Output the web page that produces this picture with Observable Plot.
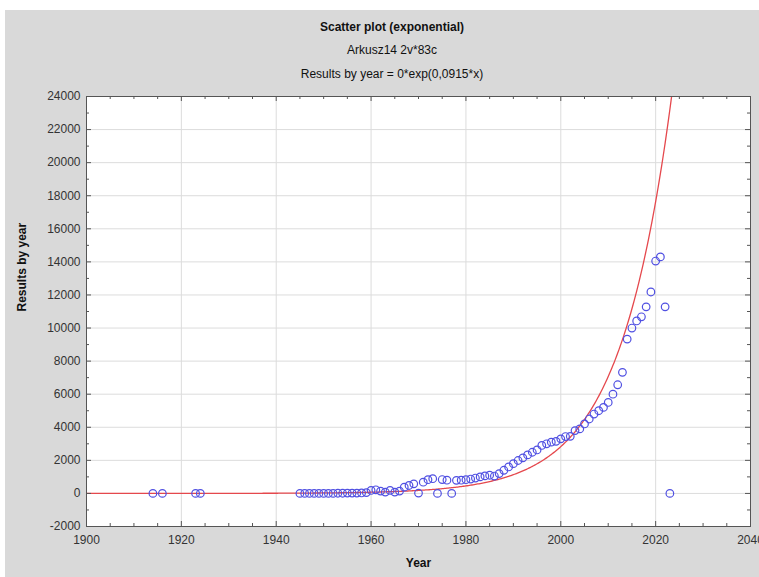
<!DOCTYPE html>
<html>
<head>
<meta charset="utf-8">
<script src="https://cdn.jsdelivr.net/npm/d3@7"></script>
<script src="https://cdn.jsdelivr.net/npm/@observablehq/plot@0.6"></script>
<style>
  html, body { margin: 0; padding: 0; background: #ffffff; }
  #wrap { position: absolute; left: 5px; top: 10px; width: 754px; height: 567px; background: #d9d9d9; overflow: hidden;
          font-family: "Liberation Sans", Arial, sans-serif; color: #111; }
  #titles { position: relative; height: 70px; }
  .t { position: absolute; left: 20px; right: 0; text-align: center; font-size: 12px; line-height: 14px; }
  #t1 { top: 10px; font-weight: bold; }
  #t2 { top: 33px; }
  #t3 { top: 57px; }
  #chart svg { display: block; }
</style>
</head>
<body>
<div id="wrap">
  <div id="titles">
    <div class="t" id="t1">Scatter plot (exponential)</div>
    <div class="t" id="t2">Arkusz14 2v*83c</div>
    <div class="t" id="t3">Results by year = 0*exp(0,0915*x)</div>
  </div>
  <div id="chart"></div>
</div>
<script>
// ---- data ----
const years = [1914, 1916, 1923, 1924,
  1945, 1946, 1947, 1948, 1949, 1950, 1951, 1952, 1953, 1954, 1955, 1956, 1957, 1958, 1959,
  1960, 1961, 1962, 1963, 1964, 1965, 1966, 1967, 1968, 1969,
  1970, 1971, 1972, 1973, 1974, 1975, 1976, 1977, 1978, 1979,
  1980, 1981, 1982, 1983, 1984, 1985, 1986, 1987, 1988, 1989,
  1990, 1991, 1992, 1993, 1994, 1995, 1996, 1997, 1998, 1999,
  2000, 2001, 2002, 2003, 2004, 2005, 2006, 2007, 2008, 2009,
  2010, 2011, 2012, 2013, 2014, 2015, 2016, 2017, 2018, 2019,
  2020, 2021, 2022, 2023];
const results = [0, 0, 0, 0,
  0, 0, 0, 0, 0, 0, 0, 0, 10, 10, 20, 20, 20, 30, 50,
  180, 220, 140, 80, 180, 80, 140, 380, 480, 580,
  20, 680, 830, 890, 0, 840, 800, 0, 790, 800,
  830, 870, 930, 1000, 1060, 1100, 1050, 1200, 1400, 1600,
  1800, 1990, 2150, 2330, 2490, 2630, 2900, 3000, 3100, 3150,
  3300, 3440, 3450, 3800, 3900, 4200, 4500, 4800, 5000, 5200,
  5500, 6000, 6570, 7320, 9330, 10000, 10430, 10680, 11280, 12180,
  14050, 14300, 11280, 0];

// fitted exponential model: Results = a*exp(0.0915*x), a expressed relative to year 2000
const fitRate = 0.0915;
const fitAt2000 = 2830;

const xTicks = [1900, 1920, 1940, 1960, 1980, 2000, 2020, 2040];
const yTicks = [-2000, 0, 2000, 4000, 6000, 8000, 10000, 12000, 14000, 16000, 18000, 20000, 22000, 24000];

// ---- build ----
const points = years.map((y, i) => ({year: y, value: results[i]}));
const curve = d3.range(1900, 2040.01, 0.25).map(x => ({year: x, value: fitAt2000 * Math.exp(fitRate * (x - 2000))}))
  .filter(d => d.value < 60000);

const xMinor = d3.range(1900, 2041, 5).filter(v => !xTicks.includes(v));
const yMinor = d3.range(-2000, 24001, 1000).filter(v => !yTicks.includes(v));

const W = 754, H = 497, mL = 81, mR = 9, mT = 16, mB = 51;
const pw = W - mL - mR, ph = H - mT - mB;
const axisColor = "#555";

const chart = Plot.plot({
  width: W, height: H,
  marginLeft: mL, marginRight: mR, marginTop: mT, marginBottom: mB,
  style: {background: "transparent", fontFamily: "\"Liberation Sans\", Arial, sans-serif", fontSize: "12px", color: "#333", overflow: "visible"},
  x: {domain: [1900, 2040]},
  y: {domain: [-2000, 24000]},
  marks: [
    Plot.frame({fill: "white", stroke: null}),
    Plot.gridX(xTicks.slice(1, -1), {stroke: "#dcdcdc", strokeOpacity: 1, strokeWidth: 1}),
    Plot.gridY(yTicks.slice(1, -1), {stroke: "#dcdcdc", strokeOpacity: 1, strokeWidth: 1}),
    Plot.line(curve, {x: "year", y: "value", stroke: "#e5484d", strokeWidth: 1.3, clip: true}),
    Plot.dot(points, {x: "year", y: "value", r: 3.8, stroke: "#5050e2", strokeWidth: 1.2, fill: "none"}),
    // inward tick marks
    Plot.tickY(yTicks, {y: d => d, insetRight: pw - 5, stroke: axisColor}),
    Plot.tickY(yMinor, {y: d => d, insetRight: pw - 3, stroke: axisColor}),
    Plot.tickY(yTicks, {y: d => d, insetLeft: pw - 5, stroke: axisColor}),
    Plot.tickY(yMinor, {y: d => d, insetLeft: pw - 3, stroke: axisColor}),
    Plot.tickX(xTicks, {x: d => d, insetTop: ph - 5, stroke: axisColor}),
    Plot.tickX(xMinor, {x: d => d, insetTop: ph - 3, stroke: axisColor}),
    Plot.tickX(xTicks, {x: d => d, insetBottom: ph - 5, stroke: axisColor}),
    Plot.tickX(xMinor, {x: d => d, insetBottom: ph - 3, stroke: axisColor}),
    Plot.axisX(xTicks, {tickSize: 0, tickPadding: 9, label: null, tickFormat: d => String(d)}),
    Plot.axisY(yTicks, {tickSize: 0, tickPadding: 6, label: null, tickFormat: d => String(d)}),
    Plot.frame({stroke: axisColor, strokeWidth: 1}),
    Plot.text(["Year"], {frameAnchor: "bottom", dy: 40, fontWeight: "bold", fontSize: 12, fill: "#111"}),
    Plot.text(["Results by year"], {frameAnchor: "left", dx: -64, rotate: -90, fontWeight: "bold", fontSize: 12, fill: "#111"})
  ]
});
document.getElementById("chart").appendChild(chart);
</script>
</body>
</html>
